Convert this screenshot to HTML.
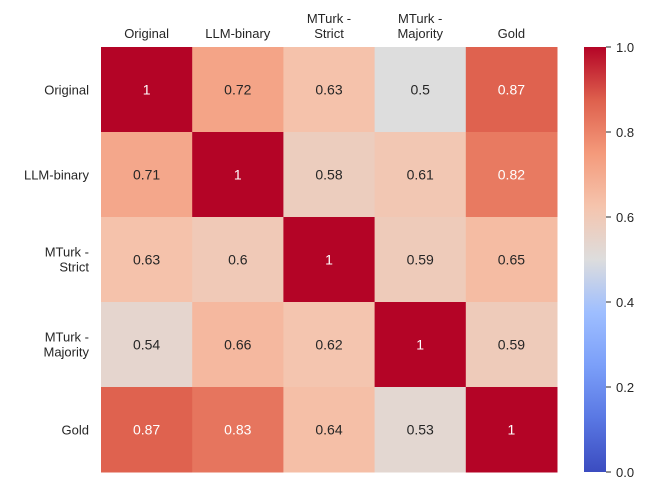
<!DOCTYPE html>
<html><head><meta charset="utf-8"><style>
body{margin:0;background:#fff;font-family:"Liberation Sans",sans-serif;}
</style></head><body>
<svg id="chart" width="660" height="482" xmlns="http://www.w3.org/2000/svg" font-family="Liberation Sans, sans-serif">
<defs><linearGradient id="cb" x1="0" y1="1" x2="0" y2="0"></linearGradient></defs>
<g id="cells"></g>
<g id="xlabels"></g>
<g id="ylabels"></g>
<rect x="584" y="47" width="22" height="425" fill="url(#cb)"/>
<g id="cbticks"></g>
</svg>
<script>
const labels = [["Original"],["LLM-binary"],["MTurk -","Strict"],["MTurk -","Majority"],["Gold"]];
const row0 = [1,0.72,0.63,0.5,0.87];
const row1 = [0.71,1,0.58,0.61,0.82];
const row2 = [0.63,0.6,1,0.59,0.65];
const row3 = [0.54,0.66,0.62,1,0.59];
const row4 = [0.87,0.83,0.64,0.53,1];
const rows = [row0,row1,row2,row3,row4];
const cbTicks = [0,0.2,0.4,0.6,0.8,1.0];
const vmin=0, vmax=1;
const L=101,T=47,W=456,H=425;
const cw=W/5, ch=H/5;
const stops=[[0,[59,76,192]],[0.125,[89,119,227]],[0.25,[123,159,249]],[0.375,[158,190,255]],[0.5,[221,221,221]],[0.625,[245,196,173]],[0.75,[244,154,123]],[0.875,[222,96,77]],[1,[180,4,38]]];
function cmap(v){let t=(v-vmin)/(vmax-vmin);t=Math.max(0,Math.min(1,t));
 for(let i=1;i<stops.length;i++){if(t<=stops[i][0]){const a=stops[i-1],b=stops[i];const f=(t-a[0])/(b[0]-a[0]);return a[1].map((c,k)=>Math.round(c+(b[1][k]-c)*f));}}return stops[stops.length-1][1];}
function lum(c){const l=c.map(x=>{x/=255;return x<=0.03928?x/12.92:Math.pow((x+0.055)/1.055,2.4)});return 0.2126*l[0]+0.7152*l[1]+0.0722*l[2];}
const NS="http://www.w3.org/2000/svg";
function mk(tag,attrs,parent){const e=document.createElementNS(NS,tag);for(const k in attrs)e.setAttribute(k,attrs[k]);parent.appendChild(e);return e;}
const g=document.getElementById('cells');
rows.forEach((r,i)=>r.forEach((v,j)=>{
 const c=cmap(v);
 const rect=mk('rect',{x:L+j*cw,y:T+i*ch,width:cw+0.5,height:ch+0.5,fill:`rgb(${c})`},g);
 
 
 const tx=mk('text',{x:L+j*cw+cw/2,y:T+i*ch+ch/2+5,'text-anchor':'middle','font-size':14,fill:lum(c)>0.408?'#262626':'#ffffff'},g);
 tx.textContent=String(v);
 
 
}));
const xl=document.getElementById('xlabels'), yl=document.getElementById('ylabels');
labels.forEach((lb,j)=>{
 const x=L+j*cw+cw/2;
 lb.forEach((s,k)=>{const t=mk('text',{x:x,y:(lb.length==1?38:23+k*15),'text-anchor':'middle','font-size':13,fill:'#262626'},xl);t.textContent=s;
 
 });
 const y=T+j*ch+ch/2;
 lb.forEach((s,k)=>{const t=mk('text',{x:89,y:(lb.length==1?y+5:y-3+k*15),'text-anchor':'end','font-size':13,fill:'#262626'},yl);t.textContent=s;
 
 });
});
const grad=document.getElementById('cb');
stops.forEach(s=>mk('stop',{offset:s[0],'stop-color':`rgb(${s[1]})`},grad));
const cbt=document.getElementById('cbticks');
cbTicks.forEach(v=>{const y=472-(v-vmin)/(vmax-vmin)*425;
 mk('line',{x1:606,x2:611,y1:y,y2:y,stroke:'#262626','stroke-width':1},cbt);
 const t=mk('text',{x:616,y:y+5,'font-size':13,fill:'#262626'},cbt);t.textContent=v.toFixed(1);
 
 });
</script>
</body></html>
